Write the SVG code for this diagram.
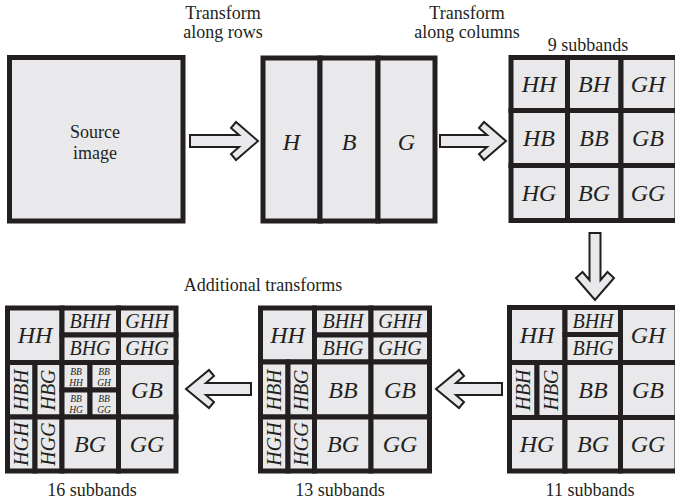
<svg xmlns="http://www.w3.org/2000/svg" width="675" height="499" viewBox="0 0 675 499">
  <style>
    .cell { fill: #e9e9eb; stroke: #231f20; stroke-width: 5; }
    .box { fill: #e9e9eb; stroke: #231f20; stroke-width: 5; }
    .arrow { fill: #e9e9eb; stroke: #231f20; stroke-width: 2; stroke-linejoin: miter; }
    .cap { font-family: "Liberation Serif", "Times New Roman", serif; font-size: 18px; fill: #231f20; text-anchor: middle; }
    .lbl { font-family: "Liberation Serif", "Times New Roman", serif; font-style: italic; font-size: 24px; fill: #231f20; text-anchor: middle; }
    .sm { font-family: "Liberation Serif", "Times New Roman", serif; font-style: italic; font-size: 20px; fill: #231f20; text-anchor: middle; }
    .xs { font-family: "Liberation Serif", "Times New Roman", serif; font-style: italic; font-size: 9.5px; fill: #231f20; text-anchor: middle; }
  </style>

  <!-- captions -->
  <g id="captions">
    <text class="cap" x="223" y="19">Transform</text>
    <text class="cap" x="223" y="38">along rows</text>
    <text class="cap" x="467" y="19">Transform</text>
    <text class="cap" x="467" y="38">along columns</text>
    <text class="cap" x="588" y="51">9 subbands</text>
    <text class="cap" x="263" y="291">Additional transforms</text>
    <text class="cap" x="92" y="496">16 subbands</text>
    <text class="cap" x="340" y="496">13 subbands</text>
    <text class="cap" x="590" y="496">11 subbands</text>
  </g>

  <!-- source image -->
  <g id="source">
    <rect class="box" x="9.5" y="57.5" width="173.5" height="163.5"/>
    <text class="cap" x="95" y="138">Source</text>
    <text class="cap" x="95" y="159">image</text>
  </g>

  <!-- row transform: H B G -->
  <g id="rows">
    <rect class="cell" x="263" y="58" width="57" height="163"/>
    <rect class="cell" x="320" y="58" width="58" height="163"/>
    <rect class="cell" x="378" y="58" width="57" height="163"/>
    <text class="lbl" x="291.5" y="150">H</text>
    <text class="lbl" x="349" y="150">B</text>
    <text class="lbl" x="406.5" y="150">G</text>
  </g>

  <!-- 9 subbands -->
  <g id="grid9">
    <rect class="cell" x="511" y="57.5" width="56.5" height="53"/>
    <rect class="cell" x="567.5" y="57.5" width="53.5" height="53"/>
    <rect class="cell" x="621" y="57.5" width="56" height="53"/>
    <rect class="cell" x="511" y="110.5" width="56.5" height="55"/>
    <rect class="cell" x="567.5" y="110.5" width="53.5" height="55"/>
    <rect class="cell" x="621" y="110.5" width="56" height="55"/>
    <rect class="cell" x="511" y="165.5" width="56.5" height="55"/>
    <rect class="cell" x="567.5" y="165.5" width="53.5" height="55"/>
    <rect class="cell" x="621" y="165.5" width="56" height="55"/>
    <text class="lbl" x="539" y="92">HH</text>
    <text class="lbl" x="594" y="92">BH</text>
    <text class="lbl" x="648" y="92">GH</text>
    <text class="lbl" x="539" y="146">HB</text>
    <text class="lbl" x="594" y="146">BB</text>
    <text class="lbl" x="648" y="146">GB</text>
    <text class="lbl" x="539" y="201">HG</text>
    <text class="lbl" x="594" y="201">BG</text>
    <text class="lbl" x="648" y="201">GG</text>
  </g>

  <!-- 11 subbands -->
  <g id="grid11">
    <rect class="cell" x="509.5" y="307.5" width="55.5" height="55"/>
    <rect class="cell" x="565" y="307.5" width="55.5" height="27"/>
    <rect class="cell" x="565" y="334.5" width="55.5" height="28"/>
    <rect class="cell" x="620.5" y="307.5" width="56.5" height="55"/>
    <rect class="cell" x="509.5" y="362.5" width="27.5" height="55"/>
    <rect class="cell" x="537" y="362.5" width="28" height="55"/>
    <rect class="cell" x="565" y="362.5" width="55.5" height="55"/>
    <rect class="cell" x="620.5" y="362.5" width="56.5" height="55"/>
    <rect class="cell" x="509.5" y="417.5" width="55.5" height="53.5"/>
    <rect class="cell" x="565" y="417.5" width="55.5" height="53.5"/>
    <rect class="cell" x="620.5" y="417.5" width="56.5" height="53.5"/>
    <text class="lbl" x="537" y="343">HH</text>
    <text class="sm" x="593" y="328">BHH</text>
    <text class="sm" x="593" y="355">BHG</text>
    <text class="lbl" x="648" y="343">GH</text>
    <text class="sm" transform="translate(530,390) rotate(-90)">HBH</text>
    <text class="sm" transform="translate(558,390) rotate(-90)">HBG</text>
    <text class="lbl" x="593" y="398">BB</text>
    <text class="lbl" x="648" y="398">GB</text>
    <text class="lbl" x="537" y="452">HG</text>
    <text class="lbl" x="593" y="452">BG</text>
    <text class="lbl" x="648" y="452">GG</text>
  </g>

  <!-- 13 subbands -->
  <g id="grid13">
    <rect class="cell" x="260.5" y="308" width="54" height="54"/>
    <rect class="cell" x="314.5" y="308" width="56.5" height="27"/>
    <rect class="cell" x="314.5" y="335" width="56.5" height="27"/>
    <rect class="cell" x="371" y="308" width="58.5" height="27"/>
    <rect class="cell" x="371" y="335" width="58.5" height="27"/>
    <rect class="cell" x="260.5" y="362" width="27.5" height="55"/>
    <rect class="cell" x="288" y="362" width="26.5" height="55"/>
    <rect class="cell" x="314.5" y="362" width="56.5" height="55"/>
    <rect class="cell" x="371" y="362" width="58.5" height="55"/>
    <rect class="cell" x="260.5" y="417" width="27.5" height="54"/>
    <rect class="cell" x="288" y="417" width="26.5" height="54"/>
    <rect class="cell" x="314.5" y="417" width="56.5" height="54"/>
    <rect class="cell" x="371" y="417" width="58.5" height="54"/>
    <text class="lbl" x="287.5" y="343">HH</text>
    <text class="sm" x="343" y="328">BHH</text>
    <text class="sm" x="343" y="355">BHG</text>
    <text class="sm" x="400" y="328">GHH</text>
    <text class="sm" x="400" y="355">GHG</text>
    <text class="sm" transform="translate(281,390) rotate(-90)">HBH</text>
    <text class="sm" transform="translate(308,390) rotate(-90)">HBG</text>
    <text class="lbl" x="343" y="398">BB</text>
    <text class="lbl" x="400" y="398">GB</text>
    <text class="sm" transform="translate(281,444) rotate(-90)">HGH</text>
    <text class="sm" transform="translate(308,444) rotate(-90)">HGG</text>
    <text class="lbl" x="343" y="452">BG</text>
    <text class="lbl" x="400" y="452">GG</text>
  </g>

  <!-- 16 subbands -->
  <g id="grid16">
    <rect class="cell" x="7.5" y="308" width="54.5" height="54.5"/>
    <rect class="cell" x="62" y="308" width="56.5" height="27"/>
    <rect class="cell" x="62" y="335" width="56.5" height="27.5"/>
    <rect class="cell" x="118.5" y="308" width="57.5" height="27"/>
    <rect class="cell" x="118.5" y="335" width="57.5" height="27.5"/>
    <rect class="cell" x="7.5" y="362.5" width="27.5" height="54.5"/>
    <rect class="cell" x="35" y="362.5" width="27" height="54.5"/>
    <rect class="cell" x="62" y="362.5" width="28" height="27.5"/>
    <rect class="cell" x="90" y="362.5" width="28.5" height="27.5"/>
    <rect class="cell" x="62" y="390" width="28" height="27"/>
    <rect class="cell" x="90" y="390" width="28.5" height="27"/>
    <rect class="cell" x="118.5" y="362.5" width="57.5" height="54.5"/>
    <rect class="cell" x="7.5" y="417" width="27.5" height="54"/>
    <rect class="cell" x="35" y="417" width="27" height="54"/>
    <rect class="cell" x="62" y="417" width="56.5" height="54"/>
    <rect class="cell" x="118.5" y="417" width="57.5" height="54"/>
    <text class="lbl" x="35" y="343">HH</text>
    <text class="sm" x="90" y="328">BHH</text>
    <text class="sm" x="90" y="355">BHG</text>
    <text class="sm" x="147" y="328">GHH</text>
    <text class="sm" x="147" y="355">GHG</text>
    <text class="sm" transform="translate(28,390) rotate(-90)">HBH</text>
    <text class="sm" transform="translate(55,390) rotate(-90)">HBG</text>
    <text class="xs" x="76" y="374.5">BB</text>
    <text class="xs" x="76" y="385.5">HH</text>
    <text class="xs" x="104" y="374.5">BB</text>
    <text class="xs" x="104" y="385.5">GH</text>
    <text class="xs" x="76" y="401.5">BB</text>
    <text class="xs" x="76" y="412.5">HG</text>
    <text class="xs" x="104" y="401.5">BB</text>
    <text class="xs" x="104" y="412.5">GG</text>
    <text class="lbl" x="147" y="398">GB</text>
    <text class="sm" transform="translate(28,444) rotate(-90)">HGH</text>
    <text class="sm" transform="translate(55,444) rotate(-90)">HGG</text>
    <text class="lbl" x="90" y="452">BG</text>
    <text class="lbl" x="147" y="452">GG</text>
  </g>

  <!-- connectors: hollow block arrows -->
  <g id="connectors">
    <polygon class="arrow" points="190,135 239,135 231,128 236,122 258,141 236,160 231,154 239,147 190,147"/>
    <polygon class="arrow" points="440,135 487,135 479,128 484,122 506,141 484,160 479,154 487,147 440,147"/>
    <polygon class="arrow" points="589.5,233 589.5,280 582.5,272 576,278 595,300 614,278 607.5,272 600.5,280 600.5,233"/>
    <polygon class="arrow" points="502,383 456,383 464,376 459,370 436,389 459,408 464,402 456,395 502,395"/>
    <polygon class="arrow" points="251,383 206,383 214,376 209,370 186,389 209,408 214,402 206,395 251,395"/>
  </g>
</svg>
